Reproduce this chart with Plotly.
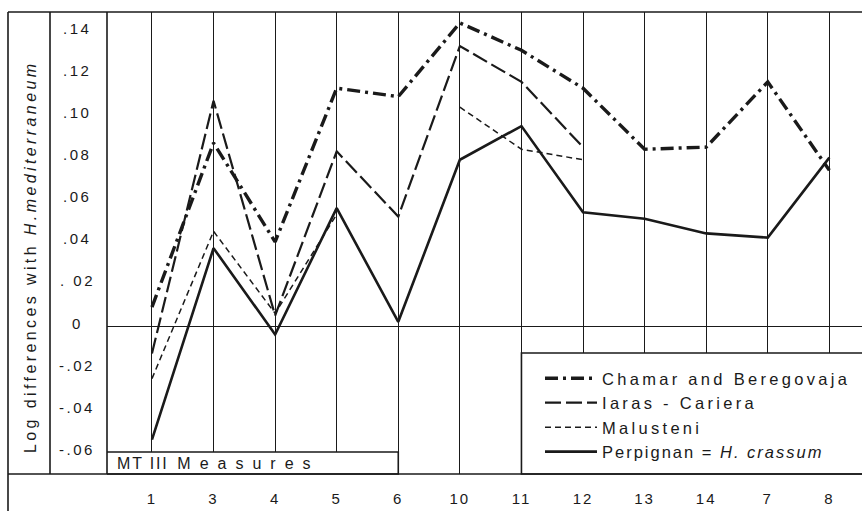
import plotly.graph_objects as go

W, H = 862, 511

categories = ["1", "3", "4", "5", "6", "10", "11", "12", "13", "14", "7", "8"]

chamar = [0.009, 0.087, 0.040, 0.113, 0.109, 0.144, 0.131, 0.113, 0.084, 0.085, 0.116, 0.074]
iaras = [-0.013, 0.107, 0.005, 0.083, 0.052, 0.133, 0.116, 0.085, None, None, None, None]
malusteni = [-0.025, 0.045, 0.006, 0.053, None, 0.104, 0.084, 0.079, None, None, None, None]
perpignan = [-0.054, 0.037, -0.004, 0.056, 0.002, 0.079, 0.095, 0.054, 0.051, 0.044, 0.042, 0.080]

y_tick_vals = [0.14, 0.12, 0.10, 0.08, 0.06, 0.04, 0.02, 0.0, -0.02, -0.04, -0.06]
y_tick_text = [".14", ".12", ".10", ".08", ".06", ".04", ". 02", "0", "-.02", "-.04", "-.06"]

FONT = "Liberation Sans, Arial, sans-serif"
INK = "#1a1a1a"


def px(x):
    return x / W


def py(y):
    return 1 - y / H


def sp(text, s=2.5):
    return f'<span style="letter-spacing:{s}px">{text}</span>'


xs = list(range(len(categories)))

fig = go.Figure()
fig.add_trace(go.Scatter(x=xs, y=chamar, mode="lines", name=sp("Chamar and Beregovaja", 3.3),
                         line=dict(color=INK, width=3.4, dash="13px,5px,3px,5px")))
fig.add_trace(go.Scatter(x=xs, y=iaras, mode="lines", name=sp("Iaras - Cariera", 3.3),
                         line=dict(color=INK, width=2.2, dash="16px,5px")))
fig.add_trace(go.Scatter(x=xs, y=malusteni, mode="lines", name=sp("Malusteni", 3.3),
                         line=dict(color=INK, width=1.5, dash="6px,4px")))
fig.add_trace(go.Scatter(x=xs, y=perpignan, mode="lines",
                         name=sp("Perpignan = <i>H. crassum</i>", 2.0),
                         line=dict(color=INK, width=2.6)))

x_lo, x_hi = -0.73, 11.53
y_lo, y_hi = -0.0703, 0.1492

fig.update_xaxes(domain=[px(107), 1], range=[x_lo, x_hi], tickmode="array",
                 tickvals=xs, ticktext=[sp(c, 2) for c in categories],
                 showgrid=True, gridcolor=INK, gridwidth=1, zeroline=False,
                 showline=False, ticks="", ticklabelstandoff=14,
                 tickfont=dict(family=FONT, size=15, color=INK))
fig.update_yaxes(domain=[py(474), py(12)], range=[y_lo, y_hi], showgrid=False,
                 zeroline=True, zerolinecolor=INK, zerolinewidth=1.2,
                 showticklabels=False, ticks="", showline=False)

LW = 1.6
shapes = [
    dict(type="line", xref="paper", yref="paper", x0=px(8), x1=1, y0=py(12), y1=py(12), line=dict(color=INK, width=LW)),
    dict(type="line", xref="paper", yref="paper", x0=px(8), x1=px(8), y0=py(12), y1=0, line=dict(color=INK, width=LW)),
    dict(type="line", xref="paper", yref="paper", x0=px(50), x1=px(50), y0=py(12), y1=py(474), line=dict(color=INK, width=LW)),
    dict(type="line", xref="paper", yref="paper", x0=px(107), x1=px(107), y0=py(12), y1=py(474), line=dict(color=INK, width=LW)),
    dict(type="rect", xref="x", yref="paper", x0=x_lo, x1=4, y0=py(474), y1=py(452),
         fillcolor="white", line=dict(color=INK, width=LW), layer="above"),
    dict(type="rect", xref="x", yref="paper", x0=6, x1=x_hi + 0.2, y0=py(474), y1=py(353),
         fillcolor="white", line=dict(color=INK, width=LW), layer="above"),
    dict(type="line", xref="paper", yref="paper", x0=px(8), x1=1, y0=py(474), y1=py(474), line=dict(color=INK, width=LW)),
]

annotations = [
    dict(text=sp("Log differences with <i>H.mediterraneum</i>", 3.4), textangle=-90,
         xref="paper", yref="paper", x=px(30), y=py(257), showarrow=False,
         xanchor="center", yanchor="middle", font=dict(family=FONT, size=16, color=INK)),
    dict(text=sp("MT III", 1.8) + "  " + sp("Measures", 9), xref="paper", yref="paper",
         x=px(115), y=py(463), showarrow=False, xanchor="left", yanchor="middle",
         font=dict(family=FONT, size=16, color=INK)),
]
for v, t in zip(y_tick_vals, y_tick_text):
    annotations.append(dict(text=sp(t, 2.5), xref="paper", yref="y", x=px(77), y=v, yshift=3,
                            showarrow=False, xanchor="center", yanchor="middle",
                            font=dict(family=FONT, size=15, color=INK)))

fig.update_layout(
    width=W, height=H, margin=dict(l=0, r=0, t=0, b=0),
    paper_bgcolor="white", plot_bgcolor="white",
    shapes=shapes, annotations=annotations,
    showlegend=True,
    legend=dict(x=px(540), y=py(361), xanchor="left", yanchor="top",
                bgcolor="rgba(0,0,0,0)", borderwidth=0, itemwidth=52,
                font=dict(family=FONT, size=16.5, color=INK), tracegroupgap=0),
)

fig.write_html("out.html", config={"displayModeBar": False},
               post_script="document.body.style.margin='0';document.body.style.padding='0';")
